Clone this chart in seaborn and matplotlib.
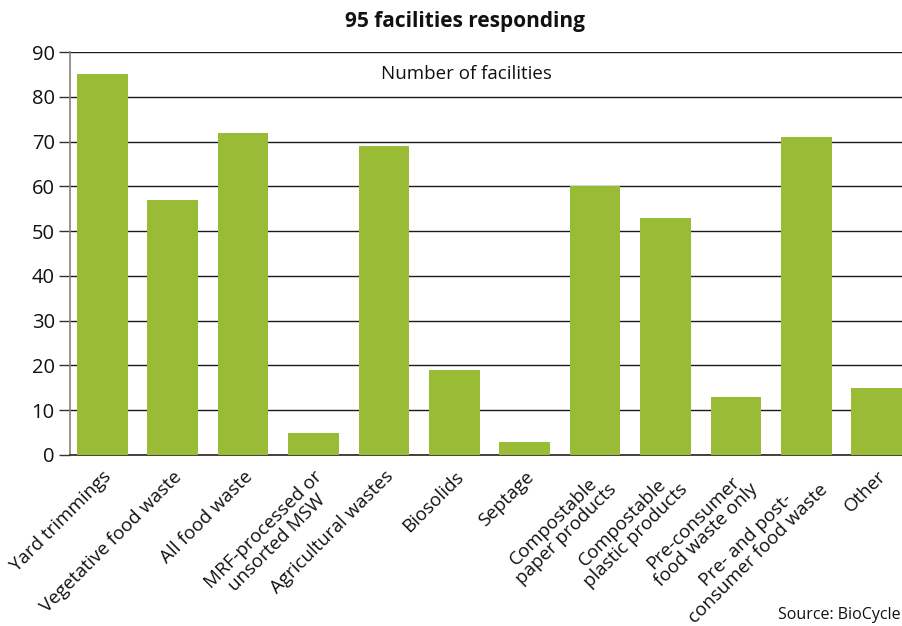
import matplotlib
matplotlib.use("Agg")
import matplotlib.pyplot as plt
import seaborn as sns
import pandas as pd

categories = [
    "Yard trimmings", "Vegetative food waste", "All food waste",
    "MRF-processed or\nunsorted MSW", "Agricultural wastes", "Biosolids",
    "Septage", "Compostable\npaper products", "Compostable\nplastic products",
    "Pre-consumer\nfood waste only", "Pre- and post-\nconsumer food waste", "Other",
]
facilities = [85, 57, 72, 5, 69, 19, 3, 60, 53, 13, 71, 15]
y_ticks = [0, 10, 20, 30, 40, 50, 60, 70, 80, 90]

sns.set_theme(style="white")
plt.rcParams["font.family"] = ["Open Sans", "DejaVu Sans"]

df = pd.DataFrame({"category": categories, "count": facilities})

fig = plt.figure(figsize=(9.02, 6.26), dpi=100)
ax = fig.add_axes([70 / 902, 1 - 455 / 626, 1 - 70 / 902, (455 - 52) / 626])

sns.barplot(data=df, x="category", y="count", color="#99bb35", saturation=1,
            width=0.72, linewidth=0, edgecolor="none", ax=ax, zorder=3)

ax.set_ylim(0, 90)
ax.set_xlim(-0.46, 11.36)
ax.set_yticks(y_ticks)
ax.yaxis.grid(True, color="#1a1a1a", linewidth=1.0, zorder=0)
ax.set_axisbelow(True)

for side in ["top", "right"]:
    ax.spines[side].set_visible(False)
ax.spines["left"].set_color("#8a8080")
ax.spines["left"].set_linewidth(1.2)
ax.spines["bottom"].set_color("#3a3030")
ax.spines["bottom"].set_linewidth(1.3)

ax.tick_params(axis="y", which="major", left=True, length=8, width=1.0,
               color="#3a3030", labelsize=14.5, pad=3, labelcolor="#111111")
ax.tick_params(axis="x", bottom=False, labelsize=13.5, pad=3, labelcolor="#111111")
ax.set_xlabel("")
ax.set_ylabel("")

ax.set_xticks(range(len(categories)))
ax.set_xticklabels(categories, rotation=45, ha="right", rotation_mode="anchor",
                   multialignment="center", linespacing=1.0)

ax.text(0.476, 0.945, "Number of facilities", transform=ax.transAxes,
        ha="center", va="center", fontsize=13.5, color="#111111")

fig.text(465 / 902, 1 - 22 / 626, "95 facilities responding", ha="center",
         va="center", fontsize=15, fontweight="bold", color="#111111")
fig.text(0.999, 1 - 615 / 626, "Source: BioCycle", ha="right", va="center",
         fontsize=11.5, color="#111111")

fig.savefig("out.png", dpi=100)
